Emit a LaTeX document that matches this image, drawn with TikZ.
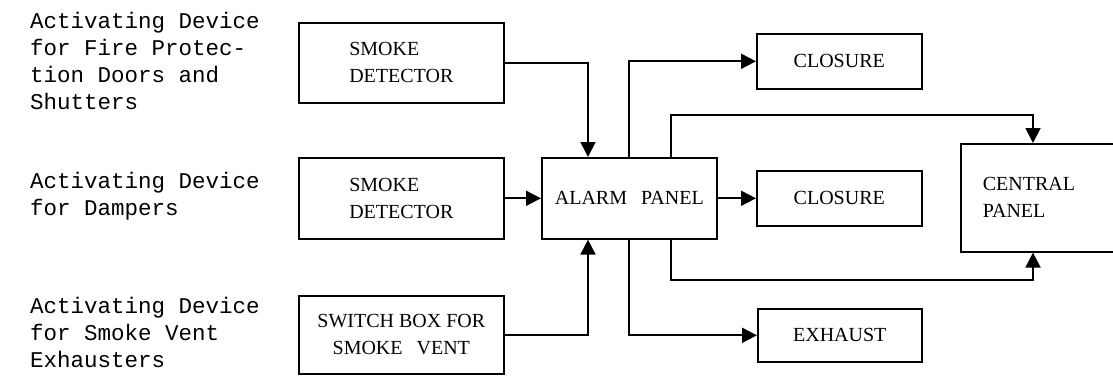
\documentclass[tikz,border=0pt]{standalone}
\usepackage{fontspec}
\setmainfont{Liberation Serif}
\newfontfamily\leftmono{Liberation Mono}
\usetikzlibrary{arrows.meta}
\begin{document}
\begin{tikzpicture}[x=1pt,y=-1pt,
  box/.style={draw, line width=1.6pt, inner sep=0pt, anchor=north west,
    font=\fontsize{20}{27}\selectfont, align=left},
  arr/.style={line width=1.8pt, -{Triangle[length=15pt,width=15pt]}},
  note/.style={anchor=base west, inner sep=0pt,
    font=\leftmono\fontsize{22.5}{27}\selectfont}]
\useasboundingbox (0,0) rectangle (1113,375);
\clip (0,0) rectangle (1113,375);

% left descriptions
\node[note] (t1a) at (30,28)  {Activating Device};
\node[note] (t1b) at (30,55)  {for Fire Protec-};
\node[note] (t1c) at (30,82)  {tion Doors and};
\node[note] (t1d) at (30,109) {Shutters};
\node[note] (t2a) at (30,188) {Activating Device};
\node[note] (t2b) at (30,215) {for Dampers};
\node[note] (t3a) at (30,313) {Activating Device};
\node[note] (t3b) at (30,340) {for Smoke Vent};
\node[note] (t3c) at (30,367) {Exhausters};

% boxes
\node[box, minimum width=205pt, minimum height=80pt] (sd1) at (298,22) {SMOKE\\DETECTOR};
\node[box, minimum width=205pt, minimum height=81pt] (sd2) at (298,157) {SMOKE\\DETECTOR};
\node[box, minimum width=205pt, minimum height=78pt, align=center] (sw) at (298,295) {SWITCH BOX FOR\\SMOKE\hspace{.7em}VENT};
\node[box, minimum width=175pt, minimum height=81pt] (alarm) at (541,157) {ALARM\hspace{.7em}PANEL};
\node[box, minimum width=165pt, minimum height=55pt] (cl1) at (756,33) {CLOSURE};
\node[box, minimum width=165pt, minimum height=55pt] (cl2) at (756,170) {CLOSURE};
\node[box, minimum width=164pt, minimum height=53pt] (ex) at (757,308) {EXHAUST};
\node[box, minimum width=165pt, minimum height=108pt, text width=121pt] (central) at (960,143) {CENTRAL\\PANEL};

% routing columns / rows
\coordinate (xa) at (588,0);
\coordinate (xb) at (629,0);
\coordinate (xc) at (671,0);
\coordinate (xd) at (1033,0);
\coordinate (ytop) at (0,115);
\coordinate (ybot) at (0,280);

% connectors
\draw[arr] (sd1.east) -| (alarm.north -| xa);
\draw[arr] (sd2.east) -- (alarm.west |- sd2.east);
\draw[arr] (sw.east) -| (alarm.south -| xa);
\draw[arr] (alarm.north -| xb) |- (cl1.west);
\draw[arr] (alarm.east |- cl2.west) -- (cl2.west);
\draw[arr] (alarm.south -| xb) |- (ex.west);
\draw[arr] (alarm.north -| xc) -- (xc |- ytop) -- (xd |- ytop) -- (central.north -| xd);
\draw[arr] (alarm.south -| xc) -- (xc |- ybot) -- (xd |- ybot) -- (central.south -| xd);
\end{tikzpicture}
\end{document}
